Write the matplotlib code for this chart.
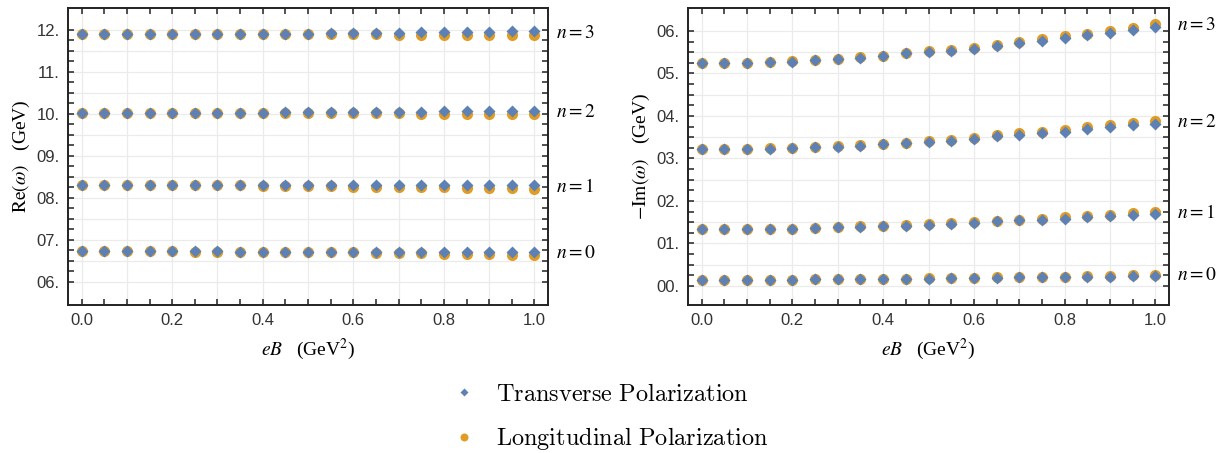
import numpy as np
import matplotlib
matplotlib.use('Agg')
import matplotlib.pyplot as plt
from matplotlib.font_manager import FontProperties

plt.rcParams.update({
    'font.family':      'Liberation Serif',
    'mathtext.fontset': 'stix',
    'xtick.direction':  'in',
    'ytick.direction':  'in',
    'xtick.top':        True,
    'ytick.right':      True,
    'axes.linewidth':   1.4,
})

BLUE = '#5E81B5'
ORANGE = '#E19C24'

# ── Data ───────────────────────────────────────────────────────────
eB = [0.00, 0.05, 0.10, 0.15, 0.20, 0.25, 0.30, 0.35, 0.40, 0.45, 0.50,
      0.55, 0.60, 0.65, 0.70, 0.75, 0.80, 0.85, 0.90, 0.95, 1.00]

# Re(omega), transverse (T) and longitudinal (L), n = 0..3
re_T_n0 = [0.673, 0.673, 0.673, 0.673, 0.673, 0.673, 0.673, 0.672, 0.672, 0.672, 0.672,
           0.672, 0.672, 0.672, 0.671, 0.671, 0.671, 0.671, 0.670, 0.670, 0.670]
re_L_n0 = [0.673, 0.673, 0.673, 0.673, 0.673, 0.672, 0.672, 0.672, 0.672, 0.671, 0.671,
           0.670, 0.670, 0.669, 0.669, 0.668, 0.667, 0.667, 0.666, 0.665, 0.665]
re_T_n1 = [0.831, 0.831, 0.831, 0.831, 0.831, 0.831, 0.831, 0.831, 0.831, 0.831, 0.830,
           0.830, 0.830, 0.830, 0.830, 0.830, 0.830, 0.830, 0.830, 0.830, 0.830]
re_L_n1 = [0.831, 0.831, 0.831, 0.831, 0.831, 0.830, 0.830, 0.830, 0.829, 0.829, 0.828,
           0.828, 0.827, 0.827, 0.826, 0.826, 0.825, 0.824, 0.824, 0.823, 0.822]
re_T_n2 = [1.003, 1.003, 1.003, 1.003, 1.003, 1.003, 1.003, 1.003, 1.003, 1.004, 1.004,
           1.004, 1.004, 1.005, 1.005, 1.005, 1.006, 1.006, 1.006, 1.007, 1.007]
re_L_n2 = [1.003, 1.003, 1.003, 1.003, 1.003, 1.003, 1.002, 1.002, 1.002, 1.002, 1.002,
           1.001, 1.001, 1.001, 1.001, 1.000, 1.000, 1.000, 0.999, 0.999, 0.999]
re_T_n3 = [1.190, 1.190, 1.190, 1.190, 1.190, 1.190, 1.190, 1.190, 1.190, 1.191, 1.191,
           1.192, 1.192, 1.193, 1.193, 1.194, 1.195, 1.195, 1.196, 1.197, 1.198]
re_L_n3 = [1.190, 1.190, 1.190, 1.190, 1.190, 1.190, 1.190, 1.190, 1.190, 1.189, 1.189,
           1.189, 1.189, 1.189, 1.188, 1.188, 1.188, 1.188, 1.187, 1.187, 1.187]

# -Im(omega)
im_T_n0 = [0.015, 0.015, 0.015, 0.015, 0.015, 0.016, 0.016, 0.016, 0.017, 0.017, 0.017,
           0.018, 0.018, 0.019, 0.020, 0.020, 0.021, 0.021, 0.022, 0.023, 0.024]
im_L_n0 = [0.015, 0.015, 0.015, 0.015, 0.015, 0.016, 0.016, 0.016, 0.017, 0.017, 0.018,
           0.018, 0.019, 0.020, 0.021, 0.021, 0.022, 0.023, 0.024, 0.025, 0.026]
im_T_n1 = [0.133, 0.133, 0.134, 0.135, 0.135, 0.136, 0.138, 0.139, 0.141, 0.142, 0.144,
           0.146, 0.149, 0.152, 0.154, 0.156, 0.158, 0.161, 0.164, 0.167, 0.169]
im_L_n1 = [0.133, 0.133, 0.134, 0.135, 0.135, 0.136, 0.138, 0.140, 0.141, 0.143, 0.145,
           0.147, 0.150, 0.153, 0.156, 0.158, 0.161, 0.164, 0.168, 0.171, 0.175]
im_T_n2 = [0.322, 0.322, 0.323, 0.323, 0.325, 0.326, 0.328, 0.330, 0.333, 0.336, 0.338,
           0.342, 0.346, 0.352, 0.356, 0.359, 0.363, 0.370, 0.375, 0.378, 0.382]
im_L_n2 = [0.322, 0.322, 0.323, 0.324, 0.325, 0.327, 0.329, 0.331, 0.334, 0.337, 0.340,
           0.344, 0.349, 0.354, 0.359, 0.363, 0.368, 0.374, 0.379, 0.383, 0.388]
im_T_n3 = [0.524, 0.524, 0.525, 0.527, 0.528, 0.531, 0.534, 0.537, 0.541, 0.547, 0.550,
           0.554, 0.558, 0.565, 0.572, 0.576, 0.583, 0.590, 0.596, 0.602, 0.609]
im_L_n3 = [0.524, 0.524, 0.525, 0.527, 0.529, 0.532, 0.535, 0.538, 0.542, 0.548, 0.552,
           0.556, 0.561, 0.567, 0.575, 0.580, 0.587, 0.594, 0.601, 0.607, 0.616]

n_labels = [r'$n = 0$', r'$n = 1$', r'$n = 2$', r'$n = 3$']

re_T = [re_T_n0, re_T_n1, re_T_n2, re_T_n3]
re_L = [re_L_n0, re_L_n1, re_L_n2, re_L_n3]
im_T = [im_T_n0, im_T_n1, im_T_n2, im_T_n3]
im_L = [im_L_n0, im_L_n1, im_L_n2, im_L_n3]

# ticks: Mathematica-style labels as printed in the figure
x_ticks = [0.0, 0.1, 0.2, 0.3, 0.4, 0.5, 0.6, 0.7, 0.8, 0.9, 1.0]
x_tick_labels = ['0.0', '', '0.2', '', '0.4', '', '0.6', '', '0.8', '', '1.0']
re_ticks = [0.60, 0.65, 0.70, 0.75, 0.80, 0.85, 0.90, 0.95, 1.00, 1.05, 1.10, 1.15, 1.20]
re_tick_labels = ['06.', '', '07.', '', '08.', '', '09.', '', '10.', '', '11.', '', '12.']
im_ticks = [0.00, 0.05, 0.10, 0.15, 0.20, 0.25, 0.30, 0.35, 0.40, 0.45, 0.50, 0.55, 0.60]
im_tick_labels = ['00.', '', '01.', '', '02.', '', '03.', '', '04.', '', '05.', '', '06.']

# ── Plot ───────────────────────────────────────────────────────────
fig = plt.figure(figsize=(12.26, 4.53), dpi=100)
ax1 = fig.add_axes([0.0555, 0.3267, 0.3915, 0.6556])
ax2 = fig.add_axes([0.5612, 0.3267, 0.3923, 0.6556])

tick_font = FontProperties(family='Liberation Sans', size=12)


def draw_panel(ax, T, L, yticks, ylabels, ylim, ylab):
    for k in range(4):
        ho, = ax.plot(eB, L[k], 'o', ms=8.0, color=ORANGE, mec='none', zorder=3)
        hb, = ax.plot(eB, T[k], 'D', ms=6.3, color=BLUE, mec='none', zorder=4)
        yend = 0.5 * (T[k][-1] + L[k][-1])
        ax.annotate(n_labels[k], xy=(1.0, yend), xycoords=('axes fraction', 'data'),
                    xytext=(6, 0), textcoords='offset points', va='center', ha='left',
                    fontsize=14, annotation_clip=False)
    ax.set_xlim(-0.03, 1.03)
    ax.set_ylim(*ylim)
    ax.set_xticks(x_ticks, x_tick_labels)
    ax.set_xticks(np.arange(0, 1.001, 0.05), minor=True)
    ax.set_yticks(yticks, ylabels)
    ax.set_yticks(np.arange(yticks[0], yticks[-1] + 1e-9, 0.025), minor=True)
    for lab in ax.get_xticklabels() + ax.get_yticklabels():
        lab.set_fontproperties(tick_font)
        lab.set_color('#333333')
    ax.tick_params(which='both', length=4, width=1.1, color='#222222')
    ax.tick_params(which='major', pad=6)
    ax.grid(True, which='major', color='#ebebeb', lw=0.9, zorder=0)
    ax.set_axisbelow(True)
    ax.set_xlabel(r'$eB$   (GeV$^2$)', fontsize=14, labelpad=6)
    ax.set_ylabel(ylab, fontsize=14, labelpad=3)
    for s in ax.spines.values():
        s.set_color('#222222')
    return hb, ho


hb, ho = draw_panel(ax1, re_T, re_L, re_ticks, re_tick_labels, (0.545, 1.252),
                    r'$\mathrm{Re}(\omega)$   (GeV)')
draw_panel(ax2, im_T, im_L, im_ticks, im_tick_labels, (-0.045, 0.654),
           r'$-\mathrm{Im}(\omega)$   (GeV)')

leg_font = FontProperties(size=17.5, math_fontfamily='cm')
fig.legend([hb, ho],
           [r'$\mathrm{Transverse\ Polarization}$', r'$\mathrm{Longitudinal\ Polarization}$'],
           loc='center', bbox_to_anchor=(0.4985, 0.077), frameon=False,
           prop=leg_font, markerscale=0.72, labelspacing=0.8, handletextpad=0.9,
           handlelength=0.8)

fig.savefig('out.png', dpi=100)
